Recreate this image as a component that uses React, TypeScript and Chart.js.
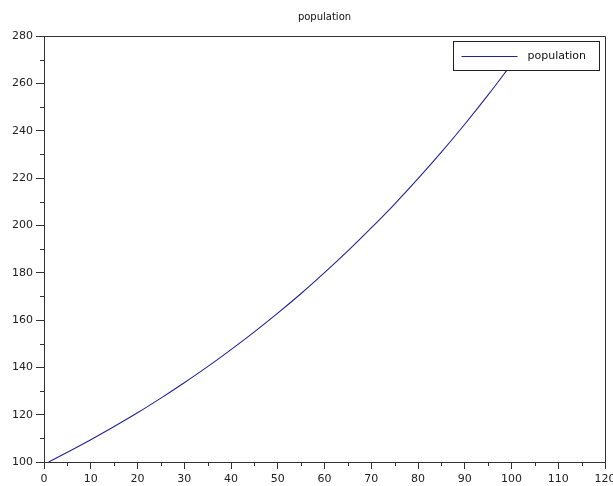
import React, { useEffect, useRef } from "react";
import { Chart, registerables } from "chart.js";

Chart.register(...registerables);

const chartTitle = "population";
const seriesLabel = "population";
const years = [1, 5, 10, 15, 20, 25, 30, 35, 40, 45, 50, 55, 60, 65, 70, 75, 80, 85, 90, 95, 100];
const populationValues = [
  100, 104.1, 109.4, 115.0, 120.8, 127.0, 133.5, 140.3, 147.5, 155.0, 162.9,
  171.2, 180.0, 189.2, 198.9, 209.0, 219.7, 230.9, 242.7, 255.1, 268.1,
];
const xMin = 0;
const xMax = 120;
const xStep = 10;
const yMin = 100;
const yMax = 280;
const yStep = 20;
const xMinorTicks = [5, 15, 25, 35, 45, 55, 65, 75, 85, 95, 105, 115];
const yMinorTicks = [110, 130, 150, 170, 190, 210, 230, 250, 270];

const AXIS_COLOR = "#333333";
const LINE_COLOR = "#22229a";
const FONT = "'DejaVu Sans', sans-serif";

const framePlugin = {
  id: "scilabFrame",
  afterDraw(chart: any) {
    const { ctx, chartArea } = chart;
    const xs = chart.scales.x;
    const ys = chart.scales.y;
    ctx.save();
    ctx.strokeStyle = AXIS_COLOR;
    ctx.lineWidth = 1;
    // frame
    ctx.beginPath();
    ctx.moveTo(Math.round(chartArea.left) + 0.5, Math.round(chartArea.top) + 0.5);
    ctx.lineTo(Math.round(chartArea.right) + 0.5, Math.round(chartArea.top) + 0.5);
    ctx.lineTo(Math.round(chartArea.right) + 0.5, Math.round(chartArea.bottom) + 0.5);
    ctx.stroke();
    // minor ticks
    ctx.beginPath();
    for (const v of xMinorTicks) {
      const px = Math.round(xs.getPixelForValue(v)) + 0.5;
      ctx.moveTo(px, chartArea.bottom);
      ctx.lineTo(px, chartArea.bottom + 4);
    }
    for (const v of yMinorTicks) {
      const py = Math.round(ys.getPixelForValue(v)) + 0.5;
      ctx.moveTo(chartArea.left - 4, py);
      ctx.lineTo(chartArea.left, py);
    }
    ctx.stroke();
    // legend
    const bx = Math.round(chartArea.right) - 152 + 0.5;
    const by = Math.round(chartArea.top) + 5 + 0.5;
    const bw = 146;
    const bh = 29;
    ctx.fillStyle = "#ffffff";
    ctx.fillRect(bx, by, bw, bh);
    ctx.strokeStyle = "#222222";
    ctx.strokeRect(bx, by, bw, bh);
    const ds = chart.data.datasets[0];
    const cy = Math.round(by + bh / 2) + 0.5;
    ctx.strokeStyle = ds.borderColor;
    ctx.beginPath();
    ctx.moveTo(bx + 8, cy);
    ctx.lineTo(bx + 64, cy);
    ctx.stroke();
    ctx.fillStyle = "#111111";
    ctx.font = `11px ${FONT}`;
    ctx.textBaseline = "middle";
    ctx.textAlign = "left";
    ctx.fillText(ds.label, bx + 74, cy);
    ctx.restore();
  },
};

export default function App() {
  const canvasRef = useRef<HTMLCanvasElement | null>(null);

  useEffect(() => {
    if (!canvasRef.current) return;
    const chart = new Chart(canvasRef.current, {
      type: "line",
      data: {
        datasets: [
          {
            label: seriesLabel,
            data: years.map((x, i) => ({ x, y: populationValues[i] })),
            borderColor: LINE_COLOR,
            backgroundColor: LINE_COLOR,
            borderWidth: 1.1,
            pointRadius: 0,
            cubicInterpolationMode: "monotone",
            fill: false,
          },
        ],
      },
      options: {
        animation: false,
        responsive: true,
        maintainAspectRatio: false,
        layout: { padding: { left: 0, right: 8, top: 0, bottom: 0 } },
        plugins: {
          legend: { display: false },
          tooltip: { enabled: false },
          title: {
            display: true,
            fullSize: false,
            text: chartTitle,
            color: "#111111",
            font: { family: FONT, size: 10, weight: "normal" },
            padding: { top: 11, bottom: 13 },
          },
        },
        scales: {
          x: {
            type: "linear",
            min: xMin,
            max: xMax,
            ticks: {
              stepSize: xStep,
              color: "#222222",
              font: { family: FONT, size: 11 },
              padding: 4,
              maxRotation: 0,
              autoSkip: false,
            },
            grid: {
              drawOnChartArea: false,
              drawTicks: true,
              tickLength: 7,
              tickColor: AXIS_COLOR,
              lineWidth: 1,
            },
            border: { display: true, color: AXIS_COLOR, width: 1 },
            afterFit(scale: any) {
              scale.height = 24;
              scale.paddingLeft = 0;
              scale.paddingRight = 0;
            },
          },
          y: {
            type: "linear",
            min: yMin,
            max: yMax,
            ticks: {
              stepSize: yStep,
              color: "#222222",
              font: { family: FONT, size: 11 },
              padding: 3,
              autoSkip: false,
            },
            grid: {
              drawOnChartArea: false,
              drawTicks: true,
              tickLength: 8,
              tickColor: AXIS_COLOR,
              lineWidth: 1,
            },
            border: { display: true, color: AXIS_COLOR, width: 1 },
            afterFit(scale: any) {
              scale.width = 44;
              scale.paddingTop = 0;
              scale.paddingBottom = 0;
            },
          },
        },
      },
      plugins: [framePlugin],
    });
    return () => chart.destroy();
  }, []);

  return (
    <div
      style={{
        position: "fixed",
        left: 0,
        top: 0,
        width: 613,
        height: 486,
        background: "#ffffff",
      }}
    >
      <canvas ref={canvasRef} style={{ width: "100%", height: "100%" }} />
    </div>
  );
}
